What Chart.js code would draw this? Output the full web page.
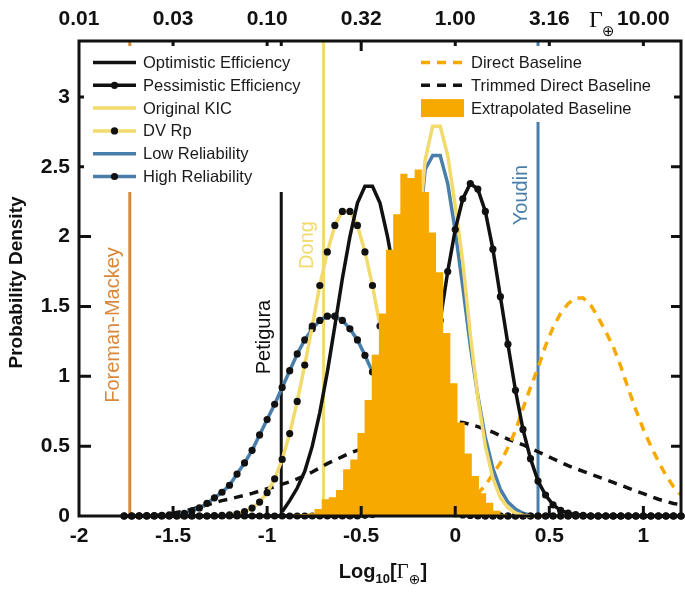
<!DOCTYPE html>
<html>
<head>
<meta charset="utf-8">
<script src="https://cdn.jsdelivr.net/npm/chart.js@4.4.1/dist/chart.umd.min.js"></script>
<style>
  html, body { margin: 0; padding: 0; background: #fff; }
  canvas { display: block; }
</style>
</head>
<body>
<canvas id="chartGamma" width="685" height="593"></canvas>
<script>
// Données (Log10 Gamma_earth)
const _ = null;

const xGrid = [
  -1.76, -1.72, -1.68, -1.64, -1.60, -1.56, -1.52, -1.48, -1.44, -1.40,
  -1.36, -1.32, -1.28, -1.24, -1.20, -1.16, -1.12, -1.08, -1.04, -1.00,
  -0.96, -0.92, -0.88, -0.84, -0.80, -0.76, -0.72, -0.68, -0.64, -0.60,
  -0.56, -0.52, -0.48, -0.44, -0.40, -0.36, -0.32, -0.28, -0.24, -0.20,
  -0.16, -0.12, -0.08, -0.04, 0.00, 0.04, 0.08, 0.12, 0.16, 0.20,
  0.24, 0.28, 0.32, 0.36, 0.40, 0.44, 0.48, 0.52, 0.56, 0.60,
  0.64, 0.68, 0.72, 0.76, 0.80, 0.84, 0.88, 0.92, 0.96, 1.00,
  1.04, 1.08, 1.12, 1.16, 1.20
];

const optimisticEff = [
  _, _, _, _, _, _, _, _, _, _,
  _, _, _, _, _, _, _, _, _, _,
  _, 0.03, 0.11, 0.20, 0.32, 0.50, 0.74, 1.03, 1.36, 1.70,
  2.00, 2.24, 2.36, 2.36, 2.24, 2.00, 1.70, 1.36, 1.03, 0.74,
  0.50, 0.32, 0.20, 0.11, 0.06, 0.03, 0.01, 0, _, _,
  _, _, _, _, _, _, _, _, _, _,
  _, _, _, _, _, _, _, _, _, _,
  _, _, _, _, _
];

const pessimisticEff = [
  0, 0, 0, 0, 0, 0, 0, 0, 0, 0,
  0, 0, 0, 0, 0, 0, 0, 0, 0, 0,
  0, 0, 0, 0, 0, 0, 0, 0, 0, 0,
  0, 0, 0.005, 0.01, 0.02, 0.06, 0.11, 0.19, 0.32, 0.51,
  0.76, 1.06, 1.40, 1.75, 2.05, 2.27, 2.38, 2.34, 2.18, 1.91,
  1.57, 1.23, 0.90, 0.62, 0.41, 0.25, 0.15, 0.08, 0.04, 0.02,
  0.01, 0.005, 0, 0, 0, 0, 0, 0, 0, 0,
  0, 0, 0, 0, 0
];

const originalKIC = [
  _, _, _, _, _, _, _, _, _, _,
  _, _, _, _, _, _, _, _, _, _,
  _, _, _, _, _, _, _, _, _, _,
  _, _, 0.01, 0.03, 0.07, 0.17, 0.38, 0.75, 1.30, 1.95,
  2.55, 2.79, 2.79, 2.58, 2.22, 1.82, 1.30, 0.85, 0.50, 0.27,
  0.13, 0.06, 0.02, 0.005, 0, _, _, _, _, _,
  _, _, _, _, _, _, _, _, _, _,
  _, _, _, _, _
];

const dvRp = [
  0, 0, 0, 0, 0, 0, 0, 0, 0, 0,
  0, 0, 0.002, 0.004, 0.008, 0.016, 0.031, 0.057, 0.10, 0.167,
  0.266, 0.405, 0.59, 0.82, 1.08, 1.36, 1.65, 1.89, 2.08, 2.18,
  2.18, 2.08, 1.89, 1.65, 1.36, 1.08, 0.82, 0.59, 0.405, 0.267,
  0.167, 0.10, 0.057, 0.031, 0.016, 0.008, 0.004, 0, 0, 0,
  0, 0, 0, 0, 0, 0, 0, 0, 0, 0,
  0, 0, 0, 0, 0, 0, 0, 0, 0, 0,
  0, 0, 0, 0, 0
];

const lowReliability = [
  _, _, _, _, _, _, _, _, _, _,
  _, _, _, _, _, _, _, _, _, _,
  _, _, _, _, _, _, _, _, _, _,
  _, _, 0.01, 0.03, 0.07, 0.16, 0.35, 0.70, 1.25, 1.95,
  2.48, 2.58, 2.58, 2.38, 2.04, 1.64, 1.22, 0.86, 0.56, 0.34,
  0.19, 0.10, 0.05, 0.02, 0.005, 0, _, _, _, _,
  _, _, _, _, _, _, _, _, _, _,
  _, _, _, _, _
];

const highReliability = [
  0, 0, 0.001, 0.002, 0.003, 0.005, 0.008, 0.012, 0.019, 0.036,
  0.058, 0.09, 0.13, 0.17, 0.22, 0.30, 0.38, 0.47, 0.58, 0.69,
  0.80, 0.92, 1.04, 1.16, 1.26, 1.34, 1.40, 1.43, 1.43, 1.40,
  1.34, 1.26, 1.15, 1.03, 0.90, 0.76, 0.62, 0.49, 0.37, 0.27,
  0.19, 0.12, 0.08, 0.05, 0.03, 0.02, 0.01, 0.005, 0, 0,
  0, 0, 0, 0, 0, 0, 0, 0, 0, 0,
  0, 0, 0, 0, 0, 0, 0, 0, 0, 0,
  0, 0, 0, 0, 0
];

const directBaseline = [
  _, _, _, _, _, _, _, _, _, _,
  _, _, _, _, _, _, _, _, _, _,
  _, _, _, _, _, _, _, _, _, _,
  _, _, _, _, _, _, _, _, _, 0.005,
  0.01, 0.02, 0.03, 0.05, 0.07, 0.09, 0.12, 0.16, 0.22, 0.30,
  0.38, 0.49, 0.61, 0.77, 0.92, 1.06, 1.22, 1.35, 1.45, 1.52,
  1.56, 1.56, 1.51, 1.42, 1.32, 1.21, 1.07, 0.91, 0.76, 0.62,
  0.50, 0.39, 0.29, 0.21, 0.15
];

const trimmedBaseline = [
  0, 0, 0.001, 0.003, 0.005, 0.008, 0.015, 0.025, 0.036, 0.048,
  0.064, 0.08, 0.095, 0.11, 0.122, 0.135, 0.148, 0.162, 0.178, 0.195,
  0.21, 0.228, 0.245, 0.265, 0.288, 0.315, 0.345, 0.375, 0.40, 0.425,
  0.45, 0.47, 0.49, 0.515, 0.54, 0.56, 0.58, 0.60, 0.62, 0.635,
  0.65, 0.66, 0.67, 0.675, 0.675, 0.67, 0.655, 0.64, 0.62, 0.60,
  0.575, 0.55, 0.53, 0.51, 0.485, 0.46, 0.435, 0.41, 0.385, 0.36,
  0.34, 0.32, 0.30, 0.28, 0.26, 0.24, 0.22, 0.20, 0.18, 0.16,
  0.14, 0.12, 0.105, 0.09, 0.08
];

// Histogramme "Extrapolated Baseline" : bords des classes et hauteurs
const histEdges = [
  -0.862, -0.824, -0.786, -0.748, -0.710, -0.672, -0.634, -0.596, -0.558, -0.520,
  -0.482, -0.444, -0.406, -0.368, -0.330, -0.292, -0.254, -0.216, -0.178, -0.140,
  -0.102, -0.064, -0.026, 0.012, 0.050, 0.088, 0.126, 0.164, 0.202, 0.240, 0.278
];
const histValues = [
  0.01, 0.015, 0.02, 0.05, 0.12, 0.134, 0.186, 0.334, 0.405, 0.595,
  0.83, 1.155, 1.45, 1.905, 2.16, 2.45, 2.42, 2.48, 2.32, 2.03,
  1.745, 1.31, 0.95, 0.67, 0.447, 0.286, 0.162, 0.095, 0.038, 0.012
];

// Lignes de référence verticales
const refNames = ['Foreman-Mackey', 'Petigura', 'Dong', 'Youdin'];
const refValues = [-1.73, -0.925, -0.70, 0.44];

// Graduations
const xTicks = [-2, -1.5, -1, -0.5, 0, 0.5, 1];
const xTickLabels = ['-2', '-1.5', '-1', '-0.5', '0', '0.5', '1'];
const topTickLabels = ['0.01', '0.03', '0.10', '0.32', '1.00', '3.16', '10.00'];
const yTicks = [0, 0.5, 1, 1.5, 2, 2.5, 3];
const yTickLabels = ['0', '0.5', '1', '1.5', '2', '2.5', '3'];

const BLACK = '#111111';
const YELLOW = '#F2DA6C';
const BLUE = '#4A7EAA';
const ORANGE = '#F7A900';
const REF_COLORS = ['#D9883A', BLACK, YELLOW, BLUE];
const FONT = '"Liberation Sans", Arial, Helvetica, sans-serif';
const SERIF = '"Liberation Serif", "DejaVu Serif", "Times New Roman", serif';

function points(arr) {
  return xGrid.map((x, i) => ({ x: x, y: arr[i] }));
}

function curve(label, arr, color, opts) {
  return Object.assign({
    label: label,
    data: points(arr),
    borderColor: color,
    backgroundColor: color,
    borderWidth: 3.5,
    pointRadius: 0,
    tension: 0,
    spanGaps: false,
    clip: false,
    order: 1,
    legendSide: 'left'
  }, opts || {});
}

const dotted = {
  pointRadius: 3.6,
  pointBackgroundColor: BLACK,
  pointBorderWidth: 0
};

const datasets = [
  curve('Optimistic Efficiency', optimisticEff, BLACK),
  curve('Pessimistic Efficiency', pessimisticEff, BLACK, dotted),
  curve('Original KIC', originalKIC, YELLOW),
  curve('DV Rp', dvRp, YELLOW, dotted),
  curve('Low Reliability', lowReliability, BLUE),
  curve('High Reliability', highReliability, BLUE, dotted),
  curve('Direct Baseline', directBaseline, ORANGE, { borderDash: [9, 7], legendSide: 'right' }),
  curve('Trimmed Direct Baseline', trimmedBaseline, BLACK, { borderDash: [9, 7], legendSide: 'right' }),
  {
    // l'histogramme passe au-dessus des courbes (order le plus bas)
    label: 'Extrapolated Baseline',
    data: histEdges.map((e, i) => ({ x: e, y: i < histValues.length ? histValues[i] : 0 })),
    stepped: true,
    fill: 'origin',
    backgroundColor: ORANGE,
    borderColor: ORANGE,
    borderWidth: 0,
    pointRadius: 0,
    order: 0,
    legendSide: 'right',
    legendBox: true
  }
];

refValues.forEach((v, i) => {
  datasets.push({
    label: refNames[i],
    data: [{ x: v, y: 0 }, { x: v, y: 3.4 }],
    borderColor: REF_COLORS[i],
    borderWidth: 3,
    pointRadius: 0,
    order: 2
  });
});

// Cadre, graduations intérieures, légendes, titres
const decorations = {
  id: 'decorations',
  afterDatasetsDraw(chart) {
    const ctx = chart.ctx;
    const a = chart.chartArea;
    const xs = chart.scales.x;
    const ys = chart.scales.y;
    ctx.save();

    // graduations intérieures
    ctx.strokeStyle = BLACK;
    ctx.lineWidth = 3;
    ctx.beginPath();
    xTicks.forEach(v => {
      const px = xs.getPixelForValue(v);
      if (px <= a.left + 2 || px >= a.right - 2) return;
      ctx.moveTo(px, a.bottom); ctx.lineTo(px, a.bottom - 10);
      ctx.moveTo(px, a.top); ctx.lineTo(px, a.top + 10);
    });
    yTicks.forEach(v => {
      const py = ys.getPixelForValue(v);
      if (py >= a.bottom - 2) return;
      ctx.moveTo(a.left, py); ctx.lineTo(a.left + 12, py);
      ctx.moveTo(a.right, py); ctx.lineTo(a.right - 10, py);
    });
    ctx.stroke();

    // fonds blancs des légendes (cachent les lignes verticales)
    ctx.fillStyle = '#fff';
    ctx.fillRect(a.left + 5, a.top + 5, 234, 146);
    ctx.fillRect(410, a.top + 5, a.right - 7 - 410, 76);

    // cadre
    ctx.strokeStyle = BLACK;
    ctx.lineWidth = 3;
    ctx.strokeRect(a.left, a.top, a.right - a.left, a.bottom - a.top);

    // légendes
    ctx.font = '16.5px ' + FONT;
    ctx.textBaseline = 'middle';
    ctx.textAlign = 'left';
    const rows = { left: 0, right: 0 };
    chart.data.datasets.forEach(ds => {
      if (!ds.legendSide) return;
      const side = ds.legendSide;
      const isLeft = side === 'left';
      const x0 = isLeft ? 93 : 421;
      const x1 = isLeft ? 136 : 464;
      const ty = 62.5 + rows[side] * 22.8;
      rows[side]++;
      if (ds.legendBox) {
        ctx.fillStyle = ds.backgroundColor;
        ctx.fillRect(x0, ty - 9, x1 - x0, 18);
      } else {
        ctx.strokeStyle = ds.borderColor;
        ctx.lineWidth = 3.5;
        ctx.setLineDash(ds.borderDash || []);
        ctx.beginPath();
        ctx.moveTo(x0, ty); ctx.lineTo(x1, ty);
        ctx.stroke();
        ctx.setLineDash([]);
        if (ds.pointRadius) {
          ctx.fillStyle = BLACK;
          ctx.beginPath();
          ctx.arc((x0 + x1) / 2, ty, 3.6, 0, Math.PI * 2);
          ctx.fill();
        }
      }
      ctx.fillStyle = '#1a1a1a';
      ctx.fillText(ds.label, x1 + 7, ty + 1);
    });

    // étiquettes des lignes de référence
    const labelCenters = [325, 337, 245, 195];
    ctx.font = '20px ' + FONT;
    ctx.textAlign = 'center';
    ctx.textBaseline = 'alphabetic';
    refValues.forEach((v, i) => {
      const px = xs.getPixelForValue(v);
      ctx.save();
      ctx.translate(px - 11, labelCenters[i]);
      ctx.rotate(-Math.PI / 2);
      ctx.fillStyle = REF_COLORS[i];
      ctx.fillText(refNames[i], 0, 0);
      ctx.restore();
    });

    ctx.restore();
  },
  afterDraw(chart) {
    const ctx = chart.ctx;
    const a = chart.chartArea;
    ctx.save();
    ctx.fillStyle = BLACK;

    // titre axe Y
    ctx.save();
    ctx.translate(17, (a.top + a.bottom) / 2 + 4);
    ctx.rotate(-Math.PI / 2);
    ctx.font = 'bold 19px ' + FONT;
    ctx.textAlign = 'center';
    ctx.textBaseline = 'middle';
    ctx.fillText('Probability Density', 0, 0);
    ctx.restore();

    // titre axe X : Log10[Γ⊕]
    const parts = [
      { t: 'Log', f: 'bold 20px ' + FONT, dy: 0 },
      { t: '10', f: 'bold 13px ' + FONT, dy: 5 },
      { t: '[', f: 'bold 20px ' + FONT, dy: 0 },
      { t: 'Γ', f: '21px ' + SERIF, dy: 0 },
      { t: '⊕', f: '14px "DejaVu Sans", sans-serif', dy: 6 },
      { t: ']', f: 'bold 20px ' + FONT, dy: 0 }
    ];
    let total = 0;
    parts.forEach(p => { ctx.font = p.f; p.w = ctx.measureText(p.t).width; total += p.w; });
    let cx = (a.left + a.right) / 2 + 3 - total / 2;
    ctx.textAlign = 'left';
    ctx.textBaseline = 'alphabetic';
    parts.forEach(p => { ctx.font = p.f; ctx.fillText(p.t, cx, 578 + p.dy); cx += p.w; });

    // Γ⊕ en haut à droite
    ctx.font = '24px ' + SERIF;
    ctx.fillText('Γ', 589, 27);
    ctx.font = '15px "DejaVu Sans", sans-serif';
    ctx.fillText('⊕', 602, 36);

    ctx.restore();
  }
};

const tickFont = { family: FONT, size: 21, weight: 'bold' };

function setTicks(values) {
  return function(axis) { axis.ticks = values.map(v => ({ value: v })); };
}

const canvas = document.getElementById('chartGamma');
const chart = new Chart(canvas.getContext('2d'), {
  type: 'line',
  data: { datasets: datasets },
  options: {
    responsive: false,
    animation: false,
    devicePixelRatio: 1,
    layout: { padding: { left: 0, right: 4, top: 0, bottom: 0 } },
    scales: {
      x: {
        type: 'linear',
        position: 'bottom',
        min: -2,
        max: 1.2,
        afterBuildTicks: setTicks(xTicks),
        afterFit: function(s) { s.height = 77; },
        ticks: {
          callback: (v, i) => xTickLabels[i],
          font: tickFont,
          color: BLACK,
          padding: 8,
          autoSkip: false,
          maxRotation: 0,
          minRotation: 0
        },
        grid: { display: false, drawTicks: false },
        border: { display: false }
      },
      x2: {
        type: 'linear',
        position: 'top',
        min: -2,
        max: 1.2,
        afterBuildTicks: setTicks(xTicks),
        afterFit: function(s) { s.height = 41; },
        ticks: {
          callback: (v, i) => topTickLabels[i],
          font: tickFont,
          color: BLACK,
          padding: 9,
          autoSkip: false,
          maxRotation: 0,
          minRotation: 0
        },
        grid: { display: false, drawTicks: false },
        border: { display: false }
      },
      y: {
        min: 0,
        max: 3.4,
        afterBuildTicks: setTicks(yTicks),
        afterFit: function(s) { s.width = 79; },
        ticks: {
          callback: (v, i) => yTickLabels[i],
          font: tickFont,
          color: BLACK,
          padding: 9,
          autoSkip: false
        },
        grid: { display: false, drawTicks: false },
        border: { display: false }
      }
    },
    plugins: {
      legend: { display: false },
      tooltip: { enabled: false }
    }
  },
  plugins: [decorations]
});
</script>
</body>
</html>
